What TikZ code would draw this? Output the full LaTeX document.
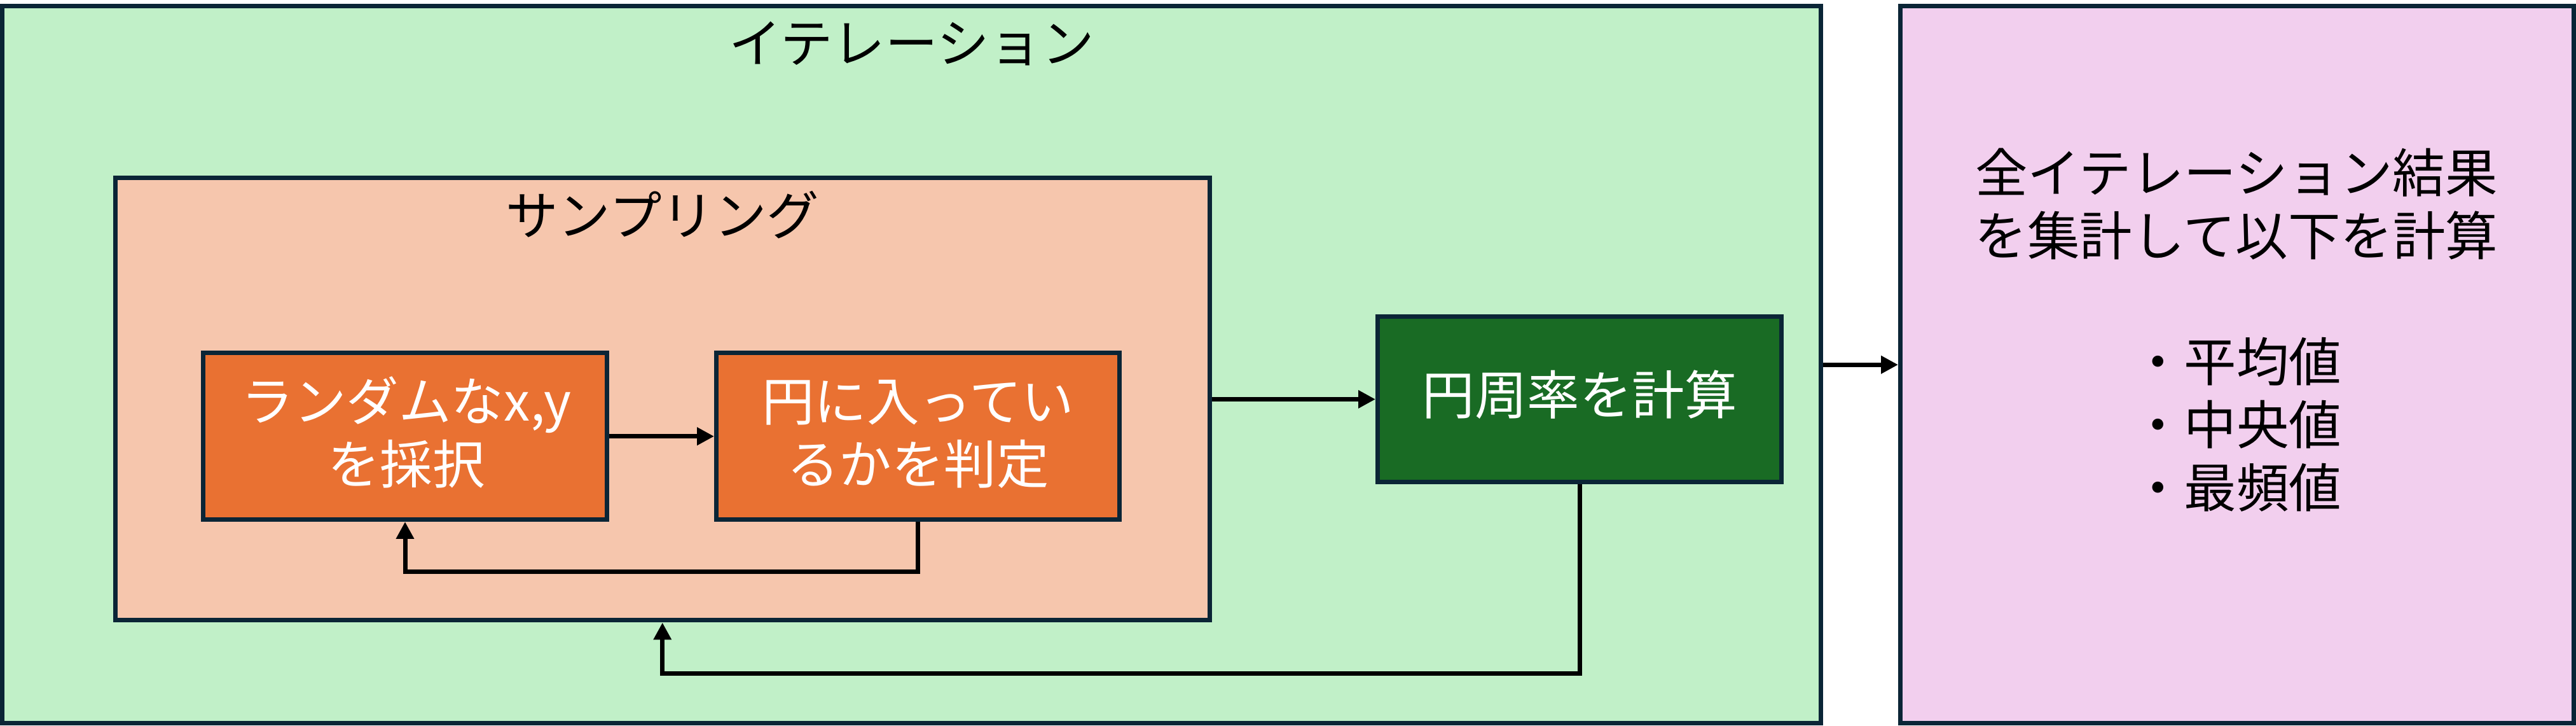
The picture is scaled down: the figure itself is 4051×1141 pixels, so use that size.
\documentclass[tikz,border=0pt]{standalone}
\usepackage{fontspec}
\setmainfont{Noto Sans CJK JP}
\usetikzlibrary{arrows.meta,calc}
\definecolor{bordc}{HTML}{0B2536}
\definecolor{greenfill}{HTML}{C1F0C8}
\definecolor{salmonfill}{HTML}{F6C6AD}
\definecolor{orangefill}{HTML}{E97132}
\definecolor{dgreenfill}{HTML}{196B24}
\definecolor{pinkfill}{HTML}{F2CFEE}
\begin{document}
\begin{tikzpicture}[x=0.25pt,y=-0.25pt,
  box/.style={draw=bordc,line width=1.75pt,rectangle,inner sep=0pt},
  lbl/.style={anchor=base,inner sep=0pt,font=\fontsize{20.625pt}{24.75pt}\selectfont},
  arr/.style={draw=black,line width=1.75pt,-{Triangle[length=6.75pt,width=6.75pt]}}]
\useasboundingbox (0,0) rectangle (4051,1141);
% containers
\node[box,fill=greenfill,minimum width=715pt,minimum height=281.625pt] (iter) at (1433.5,573.25) {};
\node[box,fill=pinkfill,minimum width=264.75pt,minimum height=281.625pt] (res) at (3518,573.25) {};
\node[box,fill=salmonfill,minimum width=430.125pt,minimum height=173.875pt] (samp) at (1041.75,627.25) {};
% process boxes
\node[box,fill=orangefill,minimum width=158.75pt,minimum height=65.375pt] (rand) at (637,685.75) {};
\node[box,fill=orangefill,minimum width=158.5pt,minimum height=65.375pt] (judge) at (1443.5,685.75) {};
\node[box,fill=dgreenfill,minimum width=158.75pt,minimum height=65pt] (pi) at (2484,627.5) {};
% texts
\node[lbl] (titer) at (1433.5,99) {イテレーション};
\node[lbl] (tsamp) at (1041.75,370) {サンプリング};
\node[lbl,text=white] (trand) at (639,662) {\begin{tabular}[t]{@{}c@{}}ランダムなx,y\\を採択\end{tabular}};
\node[lbl,text=white] (tjudge) at (1443.5,662) {\begin{tabular}[t]{@{}c@{}}円に入ってい\\るかを判定\end{tabular}};
\node[lbl,text=white] (tpi) at (2484,652) {円周率を計算};
\node[lbl] (tres) at (3517,302.5) {\begin{tabular}[t]{@{}c@{}}全イテレーション結果\\を集計して以下を計算\\ \\・平均値\\・中央値\\・最頻値\end{tabular}};
% connectors
\coordinate (c1) at (637,899);
\coordinate (c2) at (1041.75,1058.5);
\draw[arr] (rand.east) -- (judge.west);
\draw[arr] (judge.south) |- (c1) -- (rand.south);
\draw[arr] (samp.east |- pi.west) -- (pi.west);
\draw[arr] (pi.south) |- (c2) -- (samp.south);
\draw[arr] (iter.east) -- (res.west);
\end{tikzpicture}
\end{document}
